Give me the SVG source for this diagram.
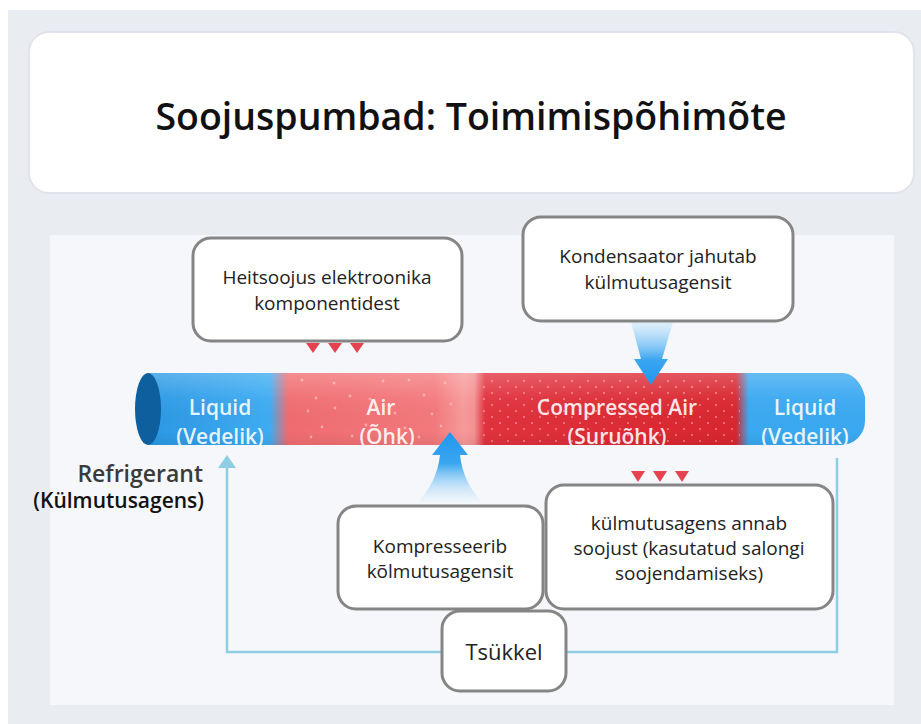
<svg xmlns="http://www.w3.org/2000/svg" width="921" height="724" viewBox="0 0 921 724">
<defs>
<style>
.card{fill:#ffffff;stroke:#858585;stroke-width:3}
.bt{font-family:"Open Sans","Noto Sans",sans-serif;font-size:19px;fill:#222;text-anchor:middle}
.tl{font-family:"Open Sans","Noto Sans",sans-serif;font-size:21px;font-weight:600;fill:#ffffff;fill-opacity:0.9;text-anchor:middle}
.cyc{fill:none;stroke:#8fcde2;stroke-width:2.5}
.tri{fill:#e5434f}
.pd{fill:#f9a9aa}
</style>
<linearGradient id="tubeH" gradientUnits="userSpaceOnUse" x1="148" y1="0" x2="865" y2="0">
<stop offset="0" stop-color="#2b98e4"/>
<stop offset="0.17" stop-color="#3eacf2"/>
<stop offset="0.195" stop-color="#f06c70"/>
<stop offset="0.40" stop-color="#f3797c"/>
<stop offset="0.44" stop-color="#f79a9b"/>
<stop offset="0.455" stop-color="#f49193"/>
<stop offset="0.47" stop-color="#e1323e"/>
<stop offset="0.82" stop-color="#d9262f"/>
<stop offset="0.838" stop-color="#3aa9f1"/>
<stop offset="1" stop-color="#3aa9f1"/>
</linearGradient>
<linearGradient id="tubeV" x1="0" y1="0" x2="0" y2="1">
<stop offset="0" stop-color="#ffffff" stop-opacity="0.22"/>
<stop offset="0.35" stop-color="#ffffff" stop-opacity="0.04"/>
<stop offset="0.8" stop-color="#000000" stop-opacity="0"/>
<stop offset="1" stop-color="#000000" stop-opacity="0.06"/>
</linearGradient>
<linearGradient id="arrDown" x1="0" y1="0" x2="0" y2="1">
<stop offset="0" stop-color="#bfe3fb" stop-opacity="0.4"/>
<stop offset="0.6" stop-color="#3aa6f0"/>
<stop offset="1" stop-color="#2196ee"/>
</linearGradient>
<linearGradient id="arrUp" x1="0" y1="0" x2="0" y2="1">
<stop offset="0" stop-color="#2196ee"/>
<stop offset="0.45" stop-color="#3aa6f0"/>
<stop offset="1" stop-color="#d8eefc" stop-opacity="0.2"/>
</linearGradient>
<pattern id="dots" patternUnits="userSpaceOnUse" width="16" height="12">
<circle cx="4" cy="3" r="1.1" fill="#f8a0a6" fill-opacity="0.7"/>
<circle cx="12" cy="9" r="1.1" fill="#f8a0a6" fill-opacity="0.7"/>
</pattern>
<clipPath id="tubeClip">
<path d="M148,373 H841 A24,36 0 0 1 865,397 V421 A24,24 0 0 1 841,445 H148 Z"/>
</clipPath>
</defs>

<rect x="0" y="0" width="921" height="724" fill="#ffffff"/>
<rect x="8" y="10" width="913" height="714" fill="#e9edf2"/>
<rect x="50" y="235" width="844" height="470" fill="#f5f7fa"/>

<g id="title">
<rect x="29" y="32" width="885" height="161" rx="20" fill="#ffffff" stroke="#e2e2ea" stroke-width="2"/>
<text x="471" y="130" font-family="'Open Sans','Noto Sans',sans-serif" font-size="37.5" font-weight="600" fill="#111" text-anchor="middle">Soojuspumbad: Toimimispõhimõte</text>
</g>

<g id="tube">
<g clip-path="url(#tubeClip)">
<rect x="148" y="373" width="717" height="72" fill="url(#tubeH)"/>
<rect x="478" y="376" width="262" height="66" fill="url(#dots)"/>
<g class="pd">
<circle cx="302" cy="380" r="1.4"/><circle cx="334" cy="383" r="1.4"/><circle cx="383" cy="381" r="1.4"/><circle cx="409" cy="380" r="1.4"/><circle cx="445" cy="383" r="1.4"/>
<circle cx="316" cy="398" r="1.4"/><circle cx="350" cy="396" r="1.4"/><circle cx="370" cy="399" r="1.4"/><circle cx="424" cy="395" r="1.4"/><circle cx="451" cy="404" r="1.4"/>
<circle cx="308" cy="411" r="1.4"/><circle cx="335" cy="408" r="1.4"/><circle cx="395" cy="413" r="1.4"/><circle cx="432" cy="414" r="1.4"/>
<circle cx="322" cy="427" r="1.4"/><circle cx="366" cy="425" r="1.4"/><circle cx="405" cy="428" r="1.4"/><circle cx="441" cy="426" r="1.4"/>
<circle cx="311" cy="437" r="1.4"/><circle cx="352" cy="436" r="1.4"/><circle cx="419" cy="437" r="1.4"/>
</g>
<rect x="148" y="373" width="717" height="72" fill="url(#tubeV)"/>
</g>
<ellipse cx="148" cy="409" rx="13" ry="36" fill="#0d5f9e"/>
<text class="tl" x="220" y="415">Liquid</text>
<text class="tl" x="220" y="444">(Vedelik)</text>
<text class="tl" x="381" y="415">Air</text>
<text class="tl" x="387" y="444">(Õhk)</text>
<text class="tl" x="617" y="415">Compressed Air</text>
<text class="tl" x="617" y="444">(Suruõhk)</text>
<text class="tl" x="805" y="415">Liquid</text>
<text class="tl" x="805" y="444">(Vedelik)</text>
</g>

<g id="refrigerant-label" font-family="'Open Sans','Noto Sans',sans-serif" text-anchor="end" font-weight="600">
<text x="203" y="482" font-size="23" fill="#3a3a3a">Refrigerant</text>
<text x="204" y="508" font-size="21" fill="#111">(Külmutusagens)</text>
</g>

<g id="connectors">
<polyline class="cyc" points="441,652 227,652 227,466"/>
<polygon points="218,468 227,455 236,468" fill="#8fcde2"/>
<polyline class="cyc" points="566,652 837,652 837,458"/>
<path d="M631,322 L673,322 L662,359 L668,359 L651,385 L634,359 L641,359 Z" fill="url(#arrDown)"/>
<path d="M450,432 L468,455 L460,455 C462,474 470,489 482,502 L418,502 C430,489 438,474 440,455 L432,455 Z" fill="url(#arrUp)"/>
<polygon class="tri" points="306,343 320,343 313,353"/>
<polygon class="tri" points="328,343 342,343 335,353"/>
<polygon class="tri" points="350,343 364,343 357,353"/>
<polygon class="tri" points="631,471 645,471 638,482"/>
<polygon class="tri" points="653,471 667,471 660,482"/>
<polygon class="tri" points="675,471 689,471 682,482"/>
</g>

<g id="box-heat">
<rect class="card" x="193" y="238" width="269" height="103" rx="18"/>
<text class="bt" x="327" y="284">Heitsoojus elektroonika</text>
<text class="bt" x="327" y="310">komponentidest</text>
</g>

<g id="box-condenser">
<rect class="card" x="523" y="217" width="270" height="104" rx="18"/>
<text class="bt" x="658" y="263">Kondensaator jahutab</text>
<text class="bt" x="658" y="289">külmutusagensit</text>
</g>

<g id="box-compress">
<rect class="card" x="338" y="506" width="205" height="103" rx="18"/>
<text class="bt" x="440" y="553">Kompresseerib</text>
<text class="bt" x="440" y="578">kõlmutusagensit</text>
</g>

<g id="box-release">
<rect class="card" x="546" y="485" width="287" height="124" rx="18"/>
<text class="bt" x="689" y="530">külmutusagens annab</text>
<text class="bt" x="689" y="555">soojust (kasutatud salongi</text>
<text class="bt" x="689" y="580">soojendamiseks)</text>
</g>

<g id="box-cycle">
<rect class="card" x="442" y="611" width="124" height="80" rx="18"/>
<text x="504" y="660" font-family="'Open Sans','Noto Sans',sans-serif" font-size="22" fill="#222" text-anchor="middle">Tsükkel</text>
</g>
</svg>
